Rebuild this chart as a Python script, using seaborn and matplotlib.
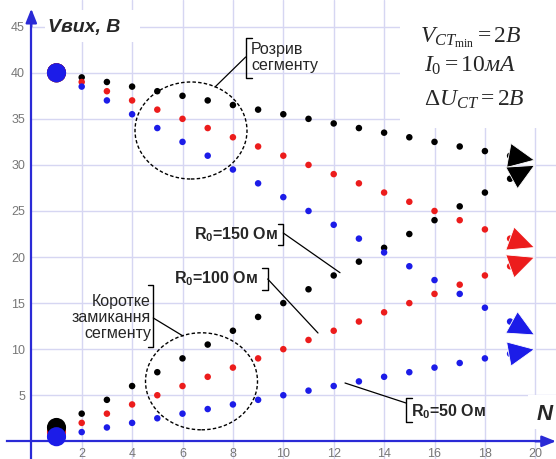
import numpy as np
import pandas as pd
import matplotlib
matplotlib.use('Agg')
import matplotlib.pyplot as plt
import seaborn as sns
from matplotlib.patches import Ellipse, Rectangle
from matplotlib.lines import Line2D

# ---------------- data ----------------
series_names = ['R0=150', 'R0=100', 'R0=50']
series_colors = ['#000000', '#ec1c1c', '#1c1ce8']

N = [2, 3, 4, 5, 6, 7, 8, 9, 10, 11, 12, 13, 14, 15, 16, 17, 18, 19]
black_upper = [39.5, 39, 38.5, 38, 37.5, 37, 36.5, 36, 35.5, 35, 34.5, 34, 33.5, 33, 32.5, 32, 31.5, 31]
red_upper = [39, 38, 37, 36, 35, 34, 33, 32, 31, 30, 29, 28, 27, 26, 25, 24, 23, 22]
blue_upper = [38.5, 37, 35.5, 34, 32.5, 31, 29.5, 28, 26.5, 25, 23.5, 22, 20.5, 19, 17.5, 16, 14.5, 13]
black_lower = [3, 4.5, 6, 7.5, 9, 10.5, 12, 13.5, 15, 16.5, 18, 19.5, 21, 22.5, 24, 25.5, 27, 28.5]
red_lower = [2, 3, 4, 5, 6, 7, 8, 9, 10, 11, 12, 13, 14, 15, 16, 17, 18, 19]
blue_lower = [1, 1.5, 2, 2.5, 3, 3.5, 4, 4.5, 5, 5.5, 6, 6.5, 7, 7.5, 8, 8.5, 9, 9.5]

N_start = 1
start_upper = [40, 40, 40]
start_lower = [1.5, 1.0, 0.5]
N_end = 20
end_upper = [30.5, 21, 11.5]
end_lower = [30, 20, 10]

x_ticks = [2, 4, 6, 8, 10, 12, 14, 16, 18, 20]
y_ticks = [5, 10, 15, 20, 25, 30, 35, 40, 45]

# ---------------- style ----------------
sns.set_style('white')
plt.rcParams['font.family'] = ['Liberation Sans', 'DejaVu Sans']
plt.rcParams['mathtext.fontset'] = 'custom'
plt.rcParams['mathtext.rm'] = 'Liberation Serif'
plt.rcParams['mathtext.it'] = 'Liberation Serif:italic'
plt.rcParams['mathtext.bf'] = 'Liberation Serif:bold'
plt.rcParams['mathtext.sf'] = 'Liberation Sans:bold'

W, H = 556, 459
fig = plt.figure(figsize=(W / 100, H / 100), dpi=100)
ax = fig.add_axes([0, 0, 1, 1])
ax.set_facecolor('white')
ax.set_xlim(-1.242, 20.821)
ax.set_ylim(-1.921, 47.90)

gridc = '#d6d6f2'
axc = '#2a2ad6'
for xv in x_ticks:
    ax.axvline(xv, color=gridc, lw=1.0, zorder=0)
for yv in y_ticks:
    ax.hlines(yv, 0, 20.821, color=gridc, lw=1.0, zorder=0)

# axes through origin
for s in ['top', 'right']:
    ax.spines[s].set_visible(False)
ax.spines['left'].set_position(('data', 0))
ax.spines['bottom'].set_position(('data', 0))
ax.spines['left'].set_bounds(-1.921, 46.0)
ax.spines['bottom'].set_bounds(-0.96, 20.2)
for s in ['left', 'bottom']:
    ax.spines[s].set_color(axc)
    ax.spines[s].set_linewidth(1.6)
    ax.spines[s].set_zorder(2)
ax.annotate('', xy=(0, 46.95), xytext=(0, 45.0),
            arrowprops=dict(arrowstyle='-|>,head_length=0.7,head_width=0.28',
                            mutation_scale=12, color=axc, lw=1.6, shrinkA=0, shrinkB=0))
ax.annotate('', xy=(20.82, 0), xytext=(20.0, 0),
            arrowprops=dict(arrowstyle='-|>,head_length=0.7,head_width=0.28',
                            mutation_scale=12, color=axc, lw=1.6, shrinkA=0, shrinkB=0))

ax.set_xticks(x_ticks)
ax.set_yticks(y_ticks)
ax.set_xticklabels([str(v) for v in x_ticks])
ax.set_yticklabels([str(v) for v in y_ticks])
ax.tick_params(direction='inout', length=7, width=1, color='#b4b4e4',
               labelcolor='#777777', labelsize=9, pad=1)

# ---------------- points ----------------
rows = []
for name, up, lo in zip(series_names, [black_upper, red_upper, blue_upper],
                        [black_lower, red_lower, blue_lower]):
    for n, v in zip(N, up):
        rows.append((n, v, name))
    for n, v in zip(N, lo):
        rows.append((n, v, name))
df = pd.DataFrame(rows, columns=['N', 'V', 'series'])
pal = dict(zip(series_names, series_colors))

sns.scatterplot(data=df, x='N', y='V', hue='series', palette=pal, s=22,
                linewidth=0, legend=False, ax=ax, zorder=3)

big_rows = []
for name, v in zip(series_names, start_upper):
    big_rows.append((N_start, v, name))
for idx in [1, 0, 2]:
    big_rows.append((N_start, start_lower[idx], series_names[idx]))
df_big = pd.DataFrame(big_rows, columns=['N', 'V', 'series'])
sns.scatterplot(data=df_big, x='N', y='V', hue='series', palette=pal, s=190,
                linewidth=0, legend=False, ax=ax, zorder=3)

# end arrows
for col, up, lo, eu, el in zip(series_colors, [black_upper, red_upper, blue_upper],
                               [black_lower, red_lower, blue_lower], end_upper, end_lower):
    for last, tip in [(up[-1], eu), (lo[-1], el)]:
        ax.annotate('', xy=(N_end, tip), xytext=(N[-1], last),
                    arrowprops=dict(arrowstyle='-|>,head_length=0.85,head_width=0.4',
                                    mutation_scale=22, fc=col, ec='white', lw=0.6,
                                    shrinkA=4, shrinkB=0), zorder=4)

ax.set_xlabel('')
ax.set_ylabel('')

# ---------------- annotations (pixel layout) ----------------
def fx(x):
    return x / W

def fy(y):
    return 1 - y / H

def white_box(x0, y0, x1, y1):
    ax.add_patch(Rectangle((fx(x0), fy(y1)), fx(x1) - fx(x0), fy(y0) - fy(y1),
                           transform=fig.transFigure, fc='white', ec='none',
                           zorder=1, clip_on=False))

def pline(xs, ys, lw=0.9, ls='-'):
    fig.add_artist(Line2D([fx(x) for x in xs], [fy(y) for y in ys],
                          transform=fig.transFigure, color='black', lw=lw, ls=ls))

white_box(45, 10, 140, 42)
white_box(400, 0, 556, 128)
white_box(528, 395, 556, 429)

fig.text(fx(48), fy(32), 'Vвих, В', fontsize=14, fontweight='bold', fontstyle='italic',
         ha='left', va='baseline')

fig.text(fx(420), fy(42.7), r'$V_{CT_{\mathrm{min}}}=2B$', fontsize=17, ha='left', va='baseline')
fig.text(fx(424), fy(71.7), r'$I_0=10\mathit{мA}$', fontsize=17, ha='left', va='baseline')
fig.text(fx(424), fy(106), r'$\Delta U_{CT}=2B$', fontsize=17, ha='left', va='baseline')

fig.text(fx(537), fy(415), 'N', fontsize=16, fontweight='bold', fontstyle='italic',
         ha='left', va='center')

# dashed ellipses
for cx, cy in [(191, 130.5), (201.5, 381.3)]:
    fig.add_artist(Ellipse((fx(cx), fy(cy)), 112 / W, 97 / H, transform=fig.transFigure,
                           fill=False, ec='black', lw=1.0, ls=(0, (2.5, 1.6))))

# Розрив сегменту
fig.text(fx(251), fy(57.5), 'Розрив\nсегменту', fontsize=11.5, ha='left', va='center',
         linespacing=1.05)
pline([252, 245.7, 245.7, 252], [37.7, 37.7, 77.7, 77.7], lw=1.0)
pline([245.7, 215], [57, 87])

# Коротке замикання сегменту
fig.text(fx(151), fy(317.5), 'Коротке\nзамикання\nсегменту', fontsize=11.5, ha='right',
         va='center', linespacing=1.1)
pline([148, 153.3, 153.3, 148], [285, 285, 347, 347], lw=1.0)
pline([153.3, 183], [318, 336])

# R0 labels
r_sub = r'R$_{\mathsf{0}}$'
fig.text(fx(278.5), fy(235), r_sub + '=150 Ом', fontsize=11.5, fontweight='bold', ha='right', va='center')
pline([278, 283.3, 283.3, 278], [224, 224, 245, 245], lw=1.0)
pline([283.3, 340], [233, 272.7])

fig.text(fx(258.5), fy(278.5), r_sub + '=100 Ом', fontsize=11.5, fontweight='bold', ha='right', va='center')
pline([262, 267.7, 267.7, 262], [267.7, 267.7, 290, 290], lw=1.0)
pline([267.7, 318], [279, 333])

fig.text(fx(411), fy(411.7), r_sub + '=50 Ом', fontsize=11.5, fontweight='bold', ha='left', va='center')
pline([411.5, 406, 406, 411.5], [398.3, 398.3, 421.7, 421.7], lw=1.0)
pline([406, 345], [403, 383])

fig.savefig('out.png', dpi=100, facecolor='white')
